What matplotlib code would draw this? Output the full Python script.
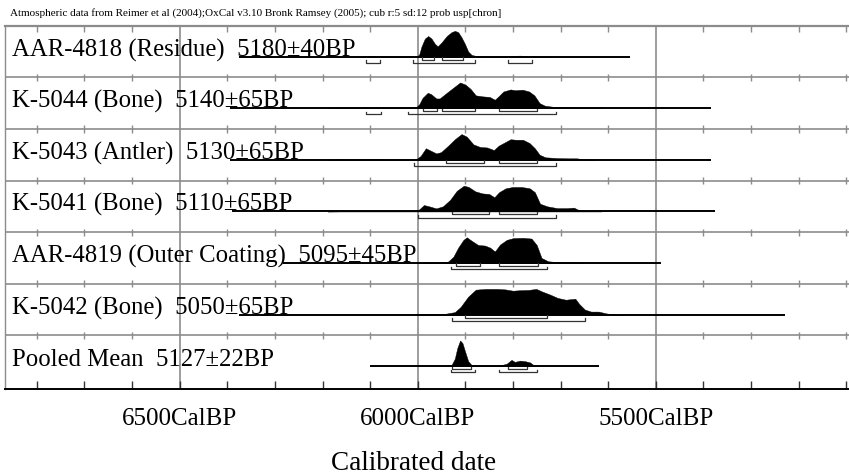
import matplotlib
matplotlib.use("Agg")
import matplotlib.pyplot as plt
import matplotlib.transforms as mtransforms
from matplotlib.ticker import FixedLocator, MultipleLocator
import numpy as np

# ---------------- data ----------------
title = ("Atmospheric data from Reimer et al (2004);OxCal v3.10 Bronk Ramsey (2005); "
         "cub r:5 sd:12 prob usp[chron]")

names = ["AAR-4818 (Residue)", "K-5044 (Bone)", "K-5043 (Antler)", "K-5041 (Bone)",
         "AAR-4819 (Outer Coating)", "K-5042 (Bone)", "Pooled Mean"]
bp_ages = [5180, 5140, 5130, 5110, 5095, 5050, 5127]
bp_errors = [40, 65, 65, 65, 45, 65, 22]

# plotted calibration range of each row (cal BP, old -> young)
plot_ranges = [(6375, 5554), (6395, 5384), (6395, 5384), (6390, 5375),
               (6284, 5489), (6376, 5229), (6100, 5620)]

aar4818_dates = [6121, 6107, 6093, 6076, 6037, 6002, 5997, 5992, 5985, 5978, 5971, 5964,
                 5958, 5950, 5939, 5929, 5922, 5915, 5908, 5901, 5894, 5887, 5876, 5855,
                 5827, 5806, 5785, 5764, 5750, 5722]
aar4818_prob = [0, 0.02, 0.03, 0.01, 0.003, 0.01, 0.08, 0.4, 0.7, 0.8, 0.7, 0.5,
                0.4, 0.55, 0.8, 0.95, 1.0, 0.95, 0.75, 0.5, 0.2, 0.07, 0.02, 0.005,
                0.01, 0.03, 0.04, 0.02, 0.005, 0]

k5044_dates = [6189, 6167, 6138, 6109, 6088, 6066, 6030, 6004, 5997, 5990, 5979, 5972,
               5961, 5954, 5939, 5925, 5911, 5900, 5889, 5878, 5863, 5849, 5838, 5831,
               5820, 5805, 5795, 5780, 5766, 5755, 5744, 5733, 5712, 5683, 5661, 5639, 5611]
k5044_prob = [0, 0.04, 0.02, 0.03, 0.04, 0.02, 0.02, 0.03, 0.15, 0.4, 0.6, 0.55,
              0.38, 0.38, 0.6, 0.8, 1.0, 0.92, 0.75, 0.5, 0.46, 0.44, 0.33, 0.45,
              0.65, 0.73, 0.7, 0.72, 0.65, 0.5, 0.2, 0.1, 0.05, 0.04, 0.03, 0.01, 0]

k5043_dates = [6189, 6167, 6138, 6109, 6085, 6061, 6030, 6004, 5994, 5983, 5972, 5961,
               5951, 5936, 5922, 5908, 5897, 5883, 5869, 5854, 5840, 5830, 5815, 5805,
               5794, 5779, 5765, 5754, 5744, 5732, 5707, 5683, 5665, 5654, 5625]
k5043_prob = [0, 0.03, 0.02, 0.03, 0.04, 0.02, 0.02, 0.02, 0.15, 0.45, 0.35, 0.25,
              0.3, 0.55, 0.8, 1.0, 0.9, 0.6, 0.5, 0.48, 0.38, 0.55, 0.7, 0.8,
              0.78, 0.78, 0.65, 0.45, 0.2, 0.1, 0.07, 0.06, 0.06, 0.02, 0]

k5041_dates = [6189, 6153, 6081, 6008, 5997, 5987, 5976, 5961, 5947, 5932, 5918, 5903,
               5893, 5879, 5864, 5850, 5839, 5829, 5815, 5800, 5782, 5765, 5754, 5743,
               5728, 5707, 5686, 5672, 5661, 5643, 5614]
k5041_prob = [0, 0.01, 0.02, 0.01, 0.08, 0.25, 0.2, 0.12, 0.2, 0.45, 0.8, 1.0,
              0.95, 0.78, 0.7, 0.68, 0.55, 0.75, 0.9, 0.95, 0.95, 0.9, 0.75, 0.3,
              0.2, 0.13, 0.13, 0.15, 0.05, 0.02, 0]

aar4819_dates = [5995, 5981, 5953, 5936, 5925, 5915, 5904, 5897, 5887, 5873, 5859, 5848,
                 5838, 5827, 5813, 5799, 5778, 5761, 5750, 5740, 5726, 5701, 5673, 5652]
aar4819_prob = [0, 0.02, 0.02, 0.06, 0.25, 0.6, 0.9, 1.0, 0.87, 0.7, 0.68, 0.6,
                0.45, 0.72, 0.9, 0.97, 0.98, 0.95, 0.7, 0.2, 0.07, 0.03, 0.03, 0]

k5042_dates = [6010, 5996, 5972, 5947, 5922, 5910, 5894, 5878, 5857, 5833, 5816, 5800,
               5784, 5767, 5751, 5739, 5722, 5706, 5689, 5669, 5661, 5649, 5636, 5620,
               5604, 5587, 5571]
k5042_prob = [0, 0.02, 0.03, 0.02, 0.1, 0.3, 0.7, 0.97, 1.0, 1.0, 0.98, 0.93,
              0.95, 0.96, 1.0, 0.9, 0.78, 0.65, 0.58, 0.62, 0.42, 0.2, 0.12, 0.12,
              0.05, 0.01, 0]

pooled_dates = [5939, 5929, 5922, 5917, 5911, 5906, 5901, 5894, 5887, 5876, 5855, 5834,
                5824, 5813, 5803, 5796, 5785, 5775, 5764, 5757, 5750]
pooled_prob = [0, 0.05, 0.3, 0.7, 1.0, 0.9, 0.6, 0.2, 0.05, 0.02, 0.01, 0.02,
               0.05, 0.1, 0.25, 0.17, 0.22, 0.2, 0.15, 0.05, 0]

# 68.2% and 95.4% probability ranges (cal BP)
ranges_68 = [[(5990, 5965), (5950, 5904)],
             [(5989, 5959), (5950, 5879), (5829, 5749)],
             [(5940, 5860), (5829, 5749)],
             [(5929, 5851), (5829, 5749)],
             [(5920, 5869), (5829, 5748)],
             [(5900, 5729)],
             [(5929, 5889), (5810, 5770)]]
ranges_95 = [[(6109, 6079), (6009, 5880), (5810, 5759)],
             [(6109, 6078), (6020, 5709)],
             [(6008, 5709)],
             [(5999, 5709)],
             [(5930, 5729)],
             [(5929, 5649)],
             [(5930, 5879), (5829, 5749)]]

major_ticks = [6500, 6000, 5500]
x_label = "Calibrated date"

densities = [(aar4818_dates, aar4818_prob), (k5044_dates, k5044_prob),
             (k5043_dates, k5043_prob), (k5041_dates, k5041_prob),
             (aar4819_dates, aar4819_prob), (k5042_dates, k5042_prob),
             (pooled_dates, pooled_prob)]

# ---------------- figure ----------------
plt.rcParams["font.family"] = ["Liberation Serif", "DejaVu Serif"]
W, H = 849, 475
fig = plt.figure(figsize=(W / 100, H / 100), dpi=100)
ax = fig.add_axes([5 / W, 1 - 389 / H, 844 / W, (389 - 25.7) / H])
ax.set_xlim(6867, 5094)
n = len(names)
ax.set_ylim(7.04, 0)

grey = "#8c8c8c"
ax.spines["right"].set_visible(False)
ax.spines["top"].set_color(grey)
ax.spines["top"].set_linewidth(1.6)
ax.spines["left"].set_color(grey)
ax.spines["left"].set_linewidth(1.0)
ax.spines["bottom"].set_color("black")
ax.spines["bottom"].set_linewidth(1.4)

ax.xaxis.set_major_locator(FixedLocator(major_ticks))
ax.xaxis.set_minor_locator(MultipleLocator(100))
ax.set_xticklabels([f"{t}CalBP" for t in major_ticks])
ax.tick_params(axis="x", which="both", direction="in", length=6, width=1.0,
               color="#333333", top=False)
ax.tick_params(axis="x", which="major", labelsize=18, pad=14)
ax.set_yticks([])

# vertical grid lines
for t in major_ticks:
    ax.axvline(t, color=grey, lw=1.2, zorder=1)

# row separator lines with small ticks
tick_locs = [t for t in ax.xaxis.get_minorticklocs() if 5094 <= t <= 6867]
for i in range(1, n):
    ax.axhline(i, color=grey, lw=1.2, zorder=1)
    ax.vlines(tick_locs, i - 0.07, i + 0.07, color=grey, lw=1.0, zorder=1)
ax.vlines(tick_locs, 0, 0.12, color=grey, lw=1.0, zorder=1)

lab_tr = mtransforms.blended_transform_factory(ax.transAxes, ax.transData)
base_off = 0.6
peak_h = 0.5
for i in range(n):
    base = i + base_off
    d, p = densities[i]
    d = np.asarray(d, float)
    p = np.asarray(p, float)
    ax.fill_between(d, base, base - p * peak_h, color="black", lw=0.3, zorder=3)
    x0, x1 = plot_ranges[i]
    ax.plot([x0, x1], [base, base], color="black", lw=1.4, zorder=3,
            solid_capstyle="butt")
    for (a, b) in ranges_68[i]:
        y = base + 0.055
        ax.plot([a, a, b, b], [y - 0.05, y, y, y - 0.05], color="#333333", lw=0.9, zorder=3)
    for (a, b) in ranges_95[i]:
        y = base + 0.12
        ax.plot([a, a, b, b], [y - 0.05, y, y, y - 0.05], color="#333333", lw=0.9, zorder=3)
    ax.text(7 / 844, base - 0.01, f"{names[i]}  {bp_ages[i]}\u00b1{bp_errors[i]}BP",
            transform=lab_tr, fontsize=17.8, va="baseline", ha="left", zorder=4)

fig.text(10 / W, 1 - 13 / H, title, fontsize=8.0, va="center", ha="left")
fig.text(414 / W, 1 - 463 / H, x_label, fontsize=19.5, va="center", ha="center")

fig.savefig("out.png", dpi=100)
